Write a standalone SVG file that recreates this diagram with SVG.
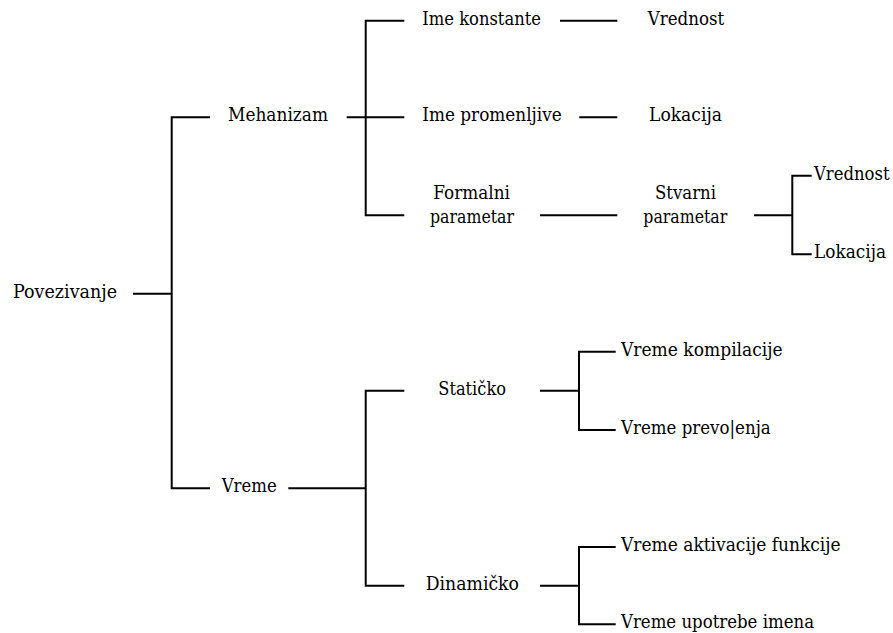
<svg xmlns="http://www.w3.org/2000/svg" width="893" height="633" viewBox="0 0 893 633">
  <style>
    .lbl { font-family: 'DejaVu Serif', 'Liberation Serif', serif; font-size: 19px; fill: #000; }
    #connectors path { fill: none; stroke: #000; stroke-width: 2; }
  </style>
  <rect width="893" height="633" fill="#fff"/>

  <g id="connectors">
    <!-- root -->
    <path d="M133,293.7 H171.7"/>
    <path d="M210,117.3 H171.7 V488.3 H210"/>
    <!-- Mehanizam -->
    <path d="M346.7,117.3 H404.3"/>
    <path d="M404.3,20.7 H365.7 V215.3 H404.3"/>
    <path d="M560,20.7 H617.3"/>
    <path d="M579.3,117.3 H617.3"/>
    <path d="M540,215.3 H617.3"/>
    <path d="M754,215.3 H792.3"/>
    <path d="M811.7,175.7 H792.3 V254.3 H811.7"/>
    <!-- Vreme -->
    <path d="M288.3,488.3 H365.7"/>
    <path d="M404.3,390.7 H365.7 V585.7 H404.3"/>
    <path d="M540,390.7 H579"/>
    <path d="M615.7,351.7 H579 V430 H615.7"/>
    <path d="M540,585.7 H579"/>
    <path d="M615.7,547 H579 V624.3 H615.7"/>
  </g>

  <!-- labels; widths fixed with textLength so lines stay clear of the words -->
  <g class="lbl">
    <g id="povezivanje"><text x="13" y="297.5" textLength="104" lengthAdjust="spacingAndGlyphs">Povezivanje</text></g>
    <g id="mehanizam"><text x="228" y="121.3" textLength="100" lengthAdjust="spacingAndGlyphs">Mehanizam</text></g>
    <g id="vreme"><text x="221.7" y="492" textLength="55" lengthAdjust="spacingAndGlyphs">Vreme</text></g>

    <g id="ime-konstante"><text x="422.3" y="24.5" textLength="118.7" lengthAdjust="spacingAndGlyphs">Ime konstante</text></g>
    <g id="vrednost-1"><text x="647.7" y="24.5" textLength="76.6" lengthAdjust="spacingAndGlyphs">Vrednost</text></g>
    <g id="ime-promenljive"><text x="422.3" y="121.3" textLength="139.4" lengthAdjust="spacingAndGlyphs">Ime promenljive</text></g>
    <g id="lokacija-1"><text x="649" y="121.3" textLength="73" lengthAdjust="spacingAndGlyphs">Lokacija</text></g>
    <g id="formalni-parametar">
      <text x="433.3" y="199" textLength="76.7" lengthAdjust="spacingAndGlyphs">Formalni</text>
      <text x="430" y="223" textLength="84" lengthAdjust="spacingAndGlyphs">parametar</text>
    </g>
    <g id="stvarni-parametar">
      <text x="655" y="199" textLength="61" lengthAdjust="spacingAndGlyphs">Stvarni</text>
      <text x="643.3" y="223" textLength="84" lengthAdjust="spacingAndGlyphs">parametar</text>
    </g>
    <g id="vrednost-2"><text x="814" y="179.7" textLength="75.5" lengthAdjust="spacingAndGlyphs">Vrednost</text></g>
    <g id="lokacija-2"><text x="814" y="258" textLength="72" lengthAdjust="spacingAndGlyphs">Lokacija</text></g>

    <g id="staticko"><text x="438.3" y="394.5" textLength="67.7" lengthAdjust="spacingAndGlyphs">Statičko</text></g>
    <g id="dinamicko"><text x="425.7" y="589.5" textLength="93.3" lengthAdjust="spacingAndGlyphs">Dinamičko</text></g>
    <g id="vreme-kompilacije"><text x="621" y="355.5" textLength="161.7" lengthAdjust="spacingAndGlyphs">Vreme kompilacije</text></g>
    <g id="vreme-prevodjenja"><text x="621" y="433.8" textLength="149.7" lengthAdjust="spacingAndGlyphs">Vreme prevo|enja</text></g>
    <g id="vreme-aktivacije"><text x="621" y="550.8" textLength="219.7" lengthAdjust="spacingAndGlyphs">Vreme aktivacije funkcije</text></g>
    <g id="vreme-upotrebe"><text x="621" y="628.1" textLength="193" lengthAdjust="spacingAndGlyphs">Vreme upotrebe imena</text></g>
  </g>
</svg>
